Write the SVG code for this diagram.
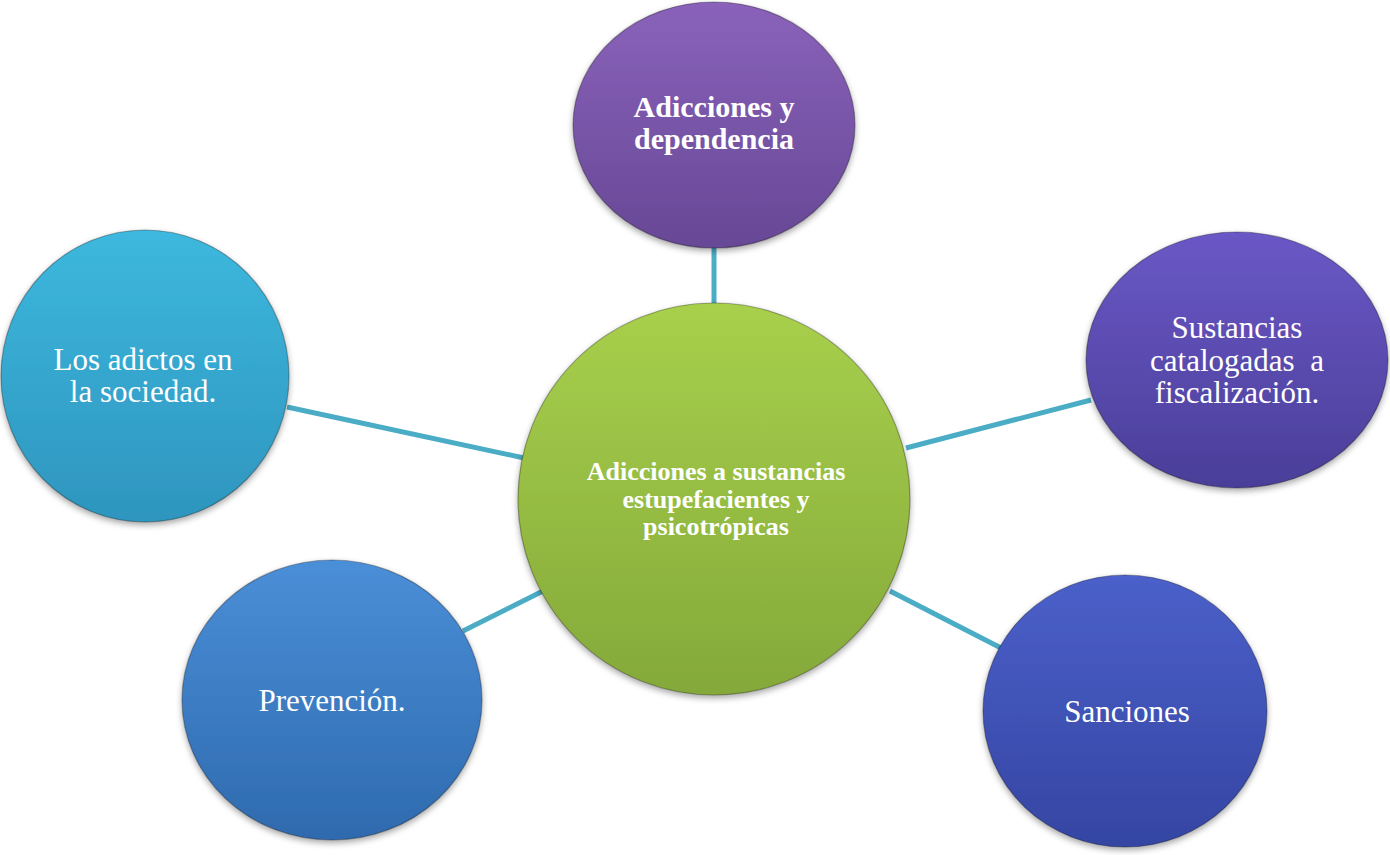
<svg xmlns="http://www.w3.org/2000/svg" width="1390" height="855" viewBox="0 0 1390 855">
<defs>
<linearGradient id="gGreen" x1="0" y1="0" x2="0" y2="1"><stop offset="0" stop-color="#A8D04C"/><stop offset="1" stop-color="#84A93A"/></linearGradient>
<linearGradient id="gPurple" x1="0" y1="0" x2="0" y2="1"><stop offset="0" stop-color="#8A62BA"/><stop offset="1" stop-color="#674896"/></linearGradient>
<linearGradient id="gViolet" x1="0" y1="0" x2="0" y2="1"><stop offset="0" stop-color="#6A58C6"/><stop offset="1" stop-color="#4A3E98"/></linearGradient>
<linearGradient id="gCyan" x1="0" y1="0" x2="0" y2="1"><stop offset="0" stop-color="#3DB8DE"/><stop offset="1" stop-color="#2E95BE"/></linearGradient>
<linearGradient id="gBlue" x1="0" y1="0" x2="0" y2="1"><stop offset="0" stop-color="#4A8FD8"/><stop offset="1" stop-color="#2F6AAE"/></linearGradient>
<linearGradient id="gIndigo" x1="0" y1="0" x2="0" y2="1"><stop offset="0" stop-color="#4B60CA"/><stop offset="1" stop-color="#3545A2"/></linearGradient>
<filter id="sh" x="-10%" y="-10%" width="120%" height="125%"><feDropShadow dx="0" dy="3" stdDeviation="3" flood-color="#000" flood-opacity="0.35"/></filter>
</defs>
<style>
.conn line{stroke:#4BACC6;stroke-width:5;stroke-linecap:butt}
.node ellipse{filter:url(#sh);stroke:rgba(0,0,0,0.3);stroke-width:1.2}
.t{font-family:"Liberation Serif","Times New Roman",serif;fill:#fff;text-anchor:middle}
.b{font-weight:bold}
</style>
<rect width="1390" height="855" fill="#fff"/>
<g id="connectors" class="conn">
<line x1="714" y1="246" x2="714" y2="305"/>
<line x1="287" y1="407" x2="524" y2="458"/>
<line x1="906" y1="448" x2="1091" y2="400"/>
<line x1="463" y1="631" x2="543" y2="591"/>
<line x1="890" y1="591" x2="1001" y2="648"/>
</g>
<g id="node-top" class="node">
<ellipse cx="714" cy="125" rx="141" ry="123" fill="url(#gPurple)"/>
<text class="t b" x="714" y="117" font-size="30">Adicciones y</text>
<text class="t b" x="714" y="149" font-size="30">dependencia</text>
</g>
<g id="node-right" class="node">
<ellipse cx="1237" cy="360" rx="151" ry="128" fill="url(#gViolet)"/>
<text class="t" x="1237" y="338" font-size="31">Sustancias</text>
<text class="t" x="1237" y="371" font-size="31" xml:space="preserve">catalogadas  a</text>
<text class="t" x="1237" y="403" font-size="31">fiscalización.</text>
</g>
<g id="node-left" class="node">
<ellipse cx="145" cy="376" rx="144" ry="146" fill="url(#gCyan)"/>
<text class="t" x="143" y="370" font-size="31">Los adictos en</text>
<text class="t" x="143" y="402" font-size="31">la sociedad.</text>
</g>
<g id="node-bottom-left" class="node">
<ellipse cx="332" cy="700" rx="150" ry="140" fill="url(#gBlue)"/>
<text class="t" x="332" y="711" font-size="31">Prevención.</text>
</g>
<g id="node-bottom-right" class="node">
<ellipse cx="1125" cy="711" rx="142" ry="136" fill="url(#gIndigo)"/>
<text class="t" x="1127" y="722" font-size="31">Sanciones</text>
</g>
<g id="node-center" class="node">
<ellipse cx="714" cy="499" rx="196" ry="196" fill="url(#gGreen)"/>
<text class="t b" x="716" y="480" font-size="26">Adicciones a sustancias</text>
<text class="t b" x="716" y="508" font-size="26">estupefacientes y</text>
<text class="t b" x="716" y="535" font-size="26">psicotrópicas</text>
</g>
</svg>
